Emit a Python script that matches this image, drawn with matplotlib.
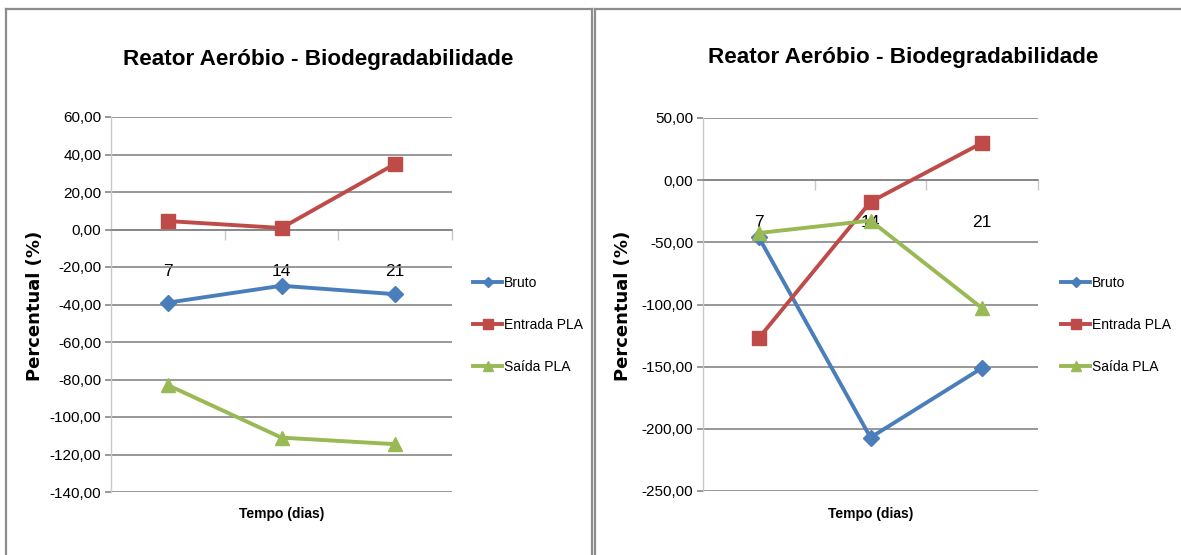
import matplotlib
matplotlib.use("Agg")
import matplotlib.pyplot as plt
from matplotlib.lines import Line2D
from matplotlib.ticker import FuncFormatter, FixedLocator, NullFormatter

# =========================================================
# DATA
# =========================================================
dias = ["7", "14", "21"]

# left chart
bruto_a = [-39, -30, -34.5]
entrada_a = [4.5, 0.8, 35]
saida_a = [-83, -111, -114.5]

# right chart
bruto_b = [-46, -207, -151]
entrada_b = [-127, -17.5, 30]
saida_b = [-42.5, -32.5, -103]

titulo = "Reator Aeróbio - Biodegradabilidade"
series_names = ["Bruto", "Entrada PLA", "Saída PLA"]

plt.rcParams["font.family"] = ["Liberation Sans", "DejaVu Sans"]

W, H = 1181, 555
fig = plt.figure(figsize=(W / 100, H / 100), dpi=100)

colors = ["#4A7EBB", "#BE4B48", "#98B954"]
markers = ["D", "s", "^"]
msizes = [8, 9.5, 10]
grid_c = "#868686"


def fx(px):
    return px / W


def fy(py):
    return 1 - py / H


def make_panel(rect, series, ylim, ystep, title_xy, ylabel_x, legend_x):
    ax = fig.add_axes(rect)
    x = list(range(len(dias)))
    handles = []
    for vals, c, m, ms, name in zip(series, colors, markers, msizes, series_names):
        h, = ax.plot(x, vals, color=c, lw=2.8, marker=m, ms=ms,
                     markeredgecolor=c, label=name, zorder=3, clip_on=False)
        handles.append(h)

    ax.set_xlim(-0.5, len(dias) - 0.5)
    ax.set_ylim(*ylim)
    yt = list(range(int(ylim[0]), int(ylim[1]) + 1, ystep))
    ax.set_yticks(yt)
    ax.yaxis.set_major_formatter(FuncFormatter(lambda v, p: f"{v:.2f}".replace(".", ",")))
    ax.grid(axis="y", color=grid_c, lw=1.2, zorder=0)
    ax.tick_params(axis="y", length=4, color=grid_c, width=1.2, labelsize=11, pad=3)

    # category axis crossing at zero
    for s in ["top", "right"]:
        ax.spines[s].set_visible(False)
    ax.spines["bottom"].set_position(("data", 0))
    ax.spines["bottom"].set_color(grid_c)
    ax.spines["bottom"].set_linewidth(1.2)
    ax.spines["left"].set_color("#C8C8C8")
    ax.spines["left"].set_linewidth(1.0)
    ax.xaxis.set_major_locator(FixedLocator([0.5, 1.5, 2.5]))
    ax.xaxis.set_major_formatter(NullFormatter())
    ax.xaxis.set_minor_locator(FixedLocator(x))
    ax.set_xticklabels(dias, minor=True)
    ax.tick_params(axis="x", which="major", direction="out", length=7,
                   color="#C8C8C8", width=1.0)
    ax.tick_params(axis="x", which="minor", length=0, pad=25, labelsize=12.5)

    fig.text(title_xy[0], title_xy[1], titulo, ha="center", va="center",
             fontsize=16.2, fontweight="bold")
    fig.text(ylabel_x, fy(306), "Percentual (%)", rotation=90, ha="center",
             va="center", fontsize=13, fontweight="bold", family="DejaVu Sans")
    fig.text(rect[0] + rect[2] / 2, fy(514), "Tempo (dias)", ha="center",
             va="center", fontsize=10, fontweight="bold")

    ax.legend(handles=handles, loc="center left",
              bbox_to_anchor=(legend_x, fy(325)), bbox_transform=fig.transFigure,
              frameon=False, fontsize=10, handlelength=2.1, handletextpad=0.15,
              labelspacing=2.0, borderpad=0, borderaxespad=0, markerscale=0.7)
    return ax


make_panel([fx(111), fy(492), fx(452 - 111), fy(117) - fy(492)],
           [bruto_a, entrada_a, saida_a], (-140, 60), 20,
           (fx(318), fy(60)), fx(35), fx(473))
make_panel([fx(703), fy(491), fx(1038 - 703), fy(118) - fy(491)],
           [bruto_b, entrada_b, saida_b], (-250, 50), 50,
           (fx(903), fy(57)), fx(623), fx(1061))

# chart borders
bc = "#8C8C8C"
for xs, ys in [([6, 6], [9, 555]), ([6, 592], [9, 9]), ([592, 592], [9, 555]),
               ([595, 595], [9, 555]), ([595, 1181], [9, 9])]:
    fig.add_artist(Line2D([fx(v) for v in xs], [fy(v) for v in ys],
                          color=bc, lw=1.6, transform=fig.transFigure))

fig.savefig("out.png", dpi=100)
